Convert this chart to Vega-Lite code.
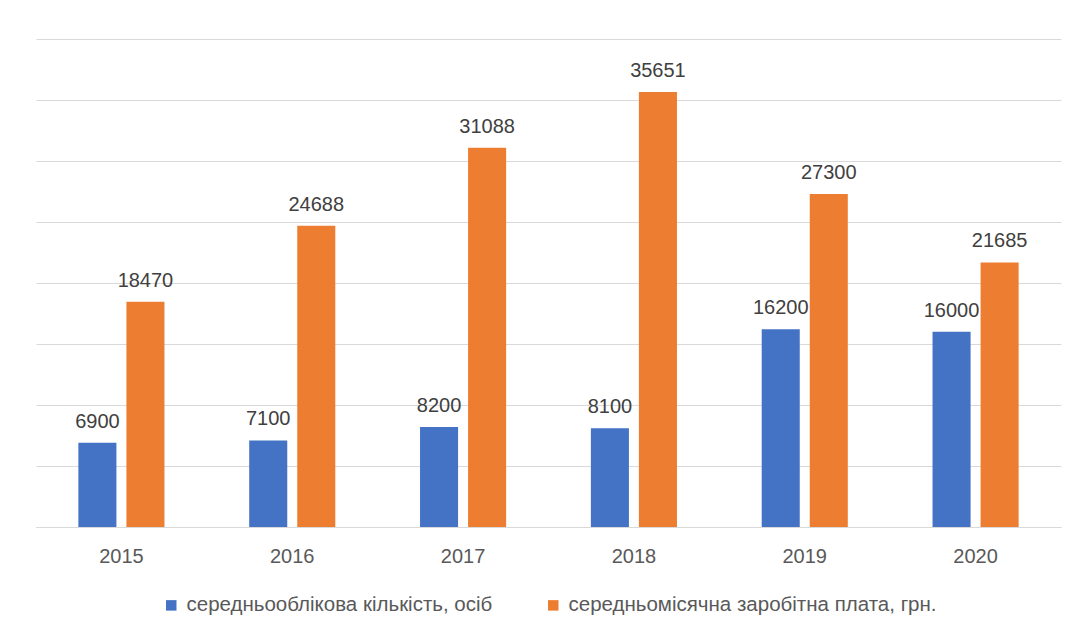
{
  "$schema": "https://vega.github.io/schema/vega-lite/v6.json",
  "width": 1025,
  "height": 488,
  "autosize": {"type": "none"},
  "padding": {"left": 36, "top": 39, "right": 18, "bottom": 111},
  "background": "white",
  "config": {
    "view": {"stroke": null},
    "font": "Liberation Sans",
    "axis": {"labelFont": "Liberation Sans", "labelColor": "#595959"}
  },
  "data": {
    "values": [
      {"year": "2015", "series": "середньооблікова кількість, осіб", "value": 6900},
      {"year": "2016", "series": "середньооблікова кількість, осіб", "value": 7100},
      {"year": "2017", "series": "середньооблікова кількість, осіб", "value": 8200},
      {"year": "2018", "series": "середньооблікова кількість, осіб", "value": 8100},
      {"year": "2019", "series": "середньооблікова кількість, осіб", "value": 16200},
      {"year": "2020", "series": "середньооблікова кількість, осіб", "value": 16000},
      {"year": "2015", "series": "середньомісячна заробітна плата, грн.", "value": 18470},
      {"year": "2016", "series": "середньомісячна заробітна плата, грн.", "value": 24688},
      {"year": "2017", "series": "середньомісячна заробітна плата, грн.", "value": 31088},
      {"year": "2018", "series": "середньомісячна заробітна плата, грн.", "value": 35651},
      {"year": "2019", "series": "середньомісячна заробітна плата, грн.", "value": 27300},
      {"year": "2020", "series": "середньомісячна заробітна плата, грн.", "value": 21685}
    ]
  },
  "encoding": {
    "x": {
      "field": "year", "type": "nominal",
      "scale": {"paddingInner": 0.496, "paddingOuter": 0.248},
      "axis": {"title": null, "labelAngle": 0, "ticks": false, "labelFontSize": 20, "labelPadding": 19, "domainColor": "#d9d9d9", "domainWidth": 1}
    },
    "xOffset": {
      "field": "series", "type": "nominal",
      "scale": {"domain": ["середньооблікова кількість, осіб", "середньомісячна заробітна плата, грн."], "paddingInner": 0.208, "paddingOuter": 0}
    },
    "y": {
      "field": "value", "type": "quantitative",
      "scale": {"domain": [0, 40000], "nice": false},
      "axis": {"title": null, "labels": false, "ticks": false, "domain": false, "values": [0, 5000, 10000, 15000, 20000, 25000, 30000, 35000, 40000], "gridColor": "#d9d9d9", "gridWidth": 1}
    }
  },
  "layer": [
    {
      "mark": {"type": "bar"},
      "encoding": {
        "color": {
          "field": "series", "type": "nominal",
          "scale": {"domain": ["середньооблікова кількість, осіб", "середньомісячна заробітна плата, грн."], "range": ["#4472C4", "#ED7D31"]},
          "legend": {
            "title": null, "orient": "none", "direction": "horizontal",
            "legendX": 125, "legendY": 556,
            "symbolType": "square", "symbolSize": 110, "symbolStrokeWidth": 0,
            "labelFontSize": 20.5, "labelColor": "#595959", "labelFont": "Liberation Sans",
            "labelLimit": 600, "columnPadding": 50, "labelOffset": 5
          }
        }
      }
    },
    {
      "mark": {"type": "text", "baseline": "alphabetic", "dy": -15, "fontSize": 20, "color": "#404040", "font": "Liberation Sans"},
      "encoding": {
        "text": {"field": "value", "type": "quantitative", "format": "d"}
      }
    }
  ]
}
